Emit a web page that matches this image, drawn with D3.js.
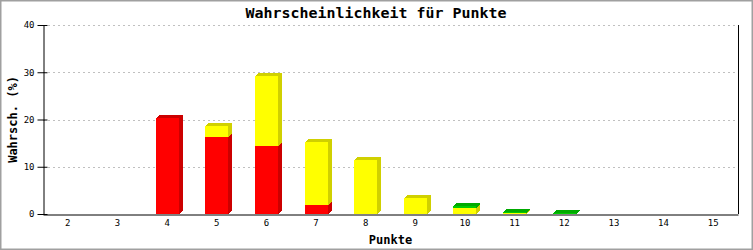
<!DOCTYPE html>
<html>
<head>
<meta charset="utf-8">
<script src="https://cdn.jsdelivr.net/npm/d3@7"></script>
<style>
  body { margin: 0; background: #fff; }
  svg { display: block; }
  .tick text { font-family: "DejaVu Sans Mono", monospace; font-size: 9px; fill: #000; }
</style>
</head>
<body>
<svg id="chart" width="753" height="250"></svg>
<script>
// points (sum) on the x axis
var categories = ["2", "3", "4", "5", "6", "7", "8", "9", "10", "11", "12", "13", "14", "15"];
// stacked series, percent
var redValues    = [0, 0, 20.3, 16.4, 14.4, 1.9, 0, 0, 0, 0, 0, 0, 0, 0];
var yellowValues = [0, 0, 0, 2.2, 14.8, 13.4, 11.4, 3.4, 1.2, 0.15, 0, 0, 0, 0];
var greenValues  = [0, 0, 0, 0, 0, 0, 0, 0, 0.5, 0.3, 0.2, 0, 0, 0];
var yTicks = [0, 10, 20, 30, 40];

var W = 753, H = 250;
var plotLeft = 43, plotRight = 738, plotTop = 25, plotBottom = 214;
var depthX = 4, depthY = 3;

var svg = d3.select("#chart");

// outer frame
svg.append("rect").attr("x", 0.5).attr("y", 0.5).attr("width", W - 1).attr("height", H - 1)
  .attr("fill", "#fff").attr("stroke", "#a0a0a0").attr("stroke-width", 2);

var x = d3.scaleBand().domain(categories).range([plotLeft, plotRight]).paddingInner(0).paddingOuter(0);
var y = d3.scaleLinear().domain([0, 40]).range([plotBottom, plotTop]);
var barW = Math.round(x.bandwidth() * 0.465);

// grid lines
svg.append("g").selectAll("line")
  .data(yTicks.filter(function (d) { return d > 0; }))
  .enter().append("line")
  .attr("x1", plotLeft).attr("x2", plotRight)
  .attr("y1", function (d) { return Math.round(y(d)) + 0.5; })
  .attr("y2", function (d) { return Math.round(y(d)) + 0.5; })
  .attr("stroke", "#c0c0c0").attr("stroke-dasharray", "2,3");

// right border of plot
svg.append("line").attr("x1", plotRight + 0.5).attr("x2", plotRight + 0.5)
  .attr("y1", plotTop).attr("y2", plotBottom).attr("stroke", "#000");

// stacked bars with 3d look
var series = [
  { values: redValues, front: "#ff0000", shade: "#cc0000" },
  { values: yellowValues, front: "#ffff00", shade: "#d0d000" },
  { values: greenValues, front: "#00cc00", shade: "#00aa00" }
];
var segments = [];
categories.forEach(function (c, i) {
  var base = 0;
  series.forEach(function (s) {
    var v = s.values[i];
    if (v > 0) segments.push({ cat: c, y0: base, y1: base + v, front: s.front, shade: s.shade });
    base += v;
  });
});

var bars = svg.append("g").attr("shape-rendering", "crispEdges");
segments.forEach(function (d) {
  var x0 = Math.round(x(d.cat) + (x.bandwidth() - barW) / 2);
  var x1 = x0 + barW;
  var yb = Math.round(y(d.y0));
  var yt = Math.round(y(d.y1));
  bars.append("polygon")
    .attr("points", [[x1, yb], [x1 + depthX, yb - depthY], [x1 + depthX, yt - depthY], [x1, yt]].join(" "))
    .attr("fill", d.shade);
  bars.append("polygon")
    .attr("points", [[x0, yt], [x0 + depthX, yt - depthY], [x1 + depthX, yt - depthY], [x1, yt]].join(" "))
    .attr("fill", d.shade);
  bars.append("rect")
    .attr("x", x0).attr("y", yt).attr("width", barW).attr("height", Math.max(yb - yt, 1))
    .attr("fill", d.front);
});

// axes
var yAxis = svg.append("g").attr("transform", "translate(" + (plotLeft + 0.5) + ",0)")
  .call(d3.axisLeft(y).tickValues(yTicks).tickSize(5).tickSizeOuter(0).tickPadding(4));
yAxis.select(".domain").attr("stroke", "#000");
yAxis.selectAll(".tick line").attr("x1", -6).attr("x2", 4).attr("stroke", "#000");

var xAxis = svg.append("g").attr("transform", "translate(0," + (plotBottom + 0.5) + ")")
  .call(d3.axisBottom(x).tickSize(0).tickSizeOuter(0).tickPadding(5));
xAxis.select(".domain").attr("stroke", "#000");

// titles
svg.append("text").attr("x", 376).attr("y", 18).attr("text-anchor", "middle")
  .attr("font-family", "DejaVu Sans Mono").attr("font-weight", "bold").attr("font-size", 14)
  .attr("textLength", 261).attr("lengthAdjust", "spacingAndGlyphs")
  .text("Wahrscheinlichkeit für Punkte");

svg.append("text").attr("x", (plotLeft + plotRight) / 2).attr("y", 244).attr("text-anchor", "middle")
  .attr("font-family", "DejaVu Sans Mono").attr("font-weight", "bold").attr("font-size", 12)
  .text("Punkte");

svg.append("text").attr("transform", "translate(17," + ((plotTop + plotBottom) / 2) + ") rotate(-90)")
  .attr("text-anchor", "middle")
  .attr("font-family", "DejaVu Sans Mono").attr("font-weight", "bold").attr("font-size", 12)
  .text("Wahrsch. (%)");
</script>
</body>
</html>
